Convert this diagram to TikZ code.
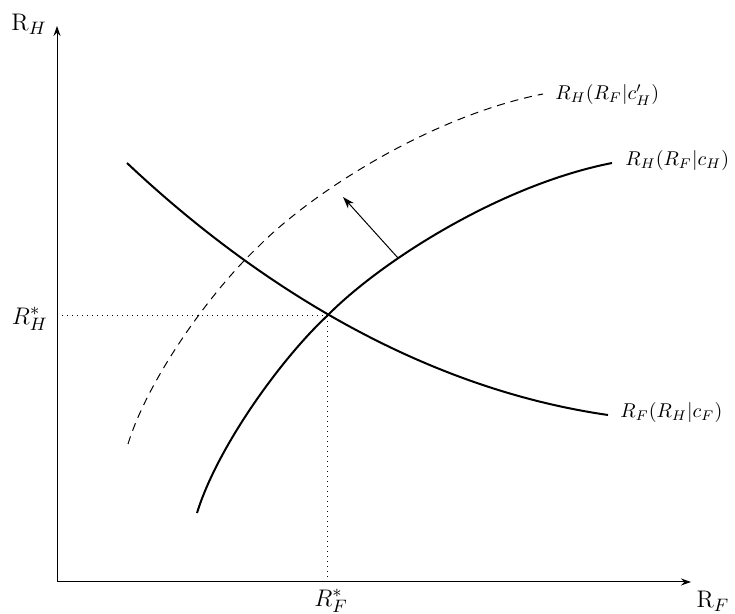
\documentclass[tikz,border=0pt]{standalone}
\usetikzlibrary{arrows.meta}
\begin{document}
\begin{tikzpicture}[x=0.5pt,y=-0.5pt,
  axis/.style={line width=0.5pt,-{Stealth[length=5pt,width=3.5pt]}},
  curve/.style={line width=1pt},
  dcurve/.style={line width=0.5pt,dash pattern=on 4pt off 3pt},
  guide/.style={line width=0.5pt,dotted},
  lbl/.style={inner sep=1pt},
  biglbl/.style={inner sep=1pt,font=\fontsize{13}{15}\selectfont}]
\useasboundingbox (0,0) rectangle (735,614);
% axes
\coordinate (O) at (57,582);
\coordinate (ytop) at (57,26);
\coordinate (xend) at (691,582);
\draw[axis] (O) -- (ytop);
\draw[axis] (O) -- (xend);
\node[biglbl] (ylab) at (29,24) {$\mathrm{R}_H$};
\node[biglbl] (xlab) at (713,601) {$\mathrm{R}_F$};
% equilibrium
\coordinate (E) at (327,316);
\coordinate (Ey) at (57,316);
\coordinate (Ex) at (327,582);
\draw[guide] (Ey) -- (E) -- (Ex);
\node[biglbl,anchor=east] (rhs) at (50,319) {$R_H^*$};
\node[biglbl] (rfs) at (331,601) {$R_F^*$};
% descending curve R_F(R_H|c_F)
\coordinate (d0) at (127,163);
\coordinate (d1) at (608,415);
\draw[curve] (d0) .. controls (232,262) and (400,385) .. (d1);
\node[lbl,anchor=west] (lf) at (618,413) {$R_F(R_H|c_F)$};
% ascending solid curve R_H(R_F|c_H)
\coordinate (s0) at (197,513);
\coordinate (s1) at (612,163);
\draw[curve] (s0) .. controls (217,448) and (280,360) .. (E)
  .. controls (380,262) and (500,185) .. (s1);
\node[lbl,anchor=west] (lh) at (623,161) {$R_H(R_F|c_H)$};
% dashed shifted curve
\begin{scope}[shift={(-69,-69)}]
\coordinate (t0) at (197,513);
\coordinate (t1) at (612,163);
\draw[dcurve] (t0) .. controls (217,448) and (280,360) .. (327,316)
  .. controls (380,262) and (500,185) .. (t1);
\end{scope}
\node[lbl,anchor=west] (lhp) at (553,95) {$R_H(R_F|c'_H)$};
% shift arrow
\coordinate (a0) at (398,258);
\coordinate (a1) at (343,197);
\draw[line width=0.5pt,-{Stealth[length=6pt,width=4pt]}] (a0) -- (a1);
\end{tikzpicture}
\end{document}
